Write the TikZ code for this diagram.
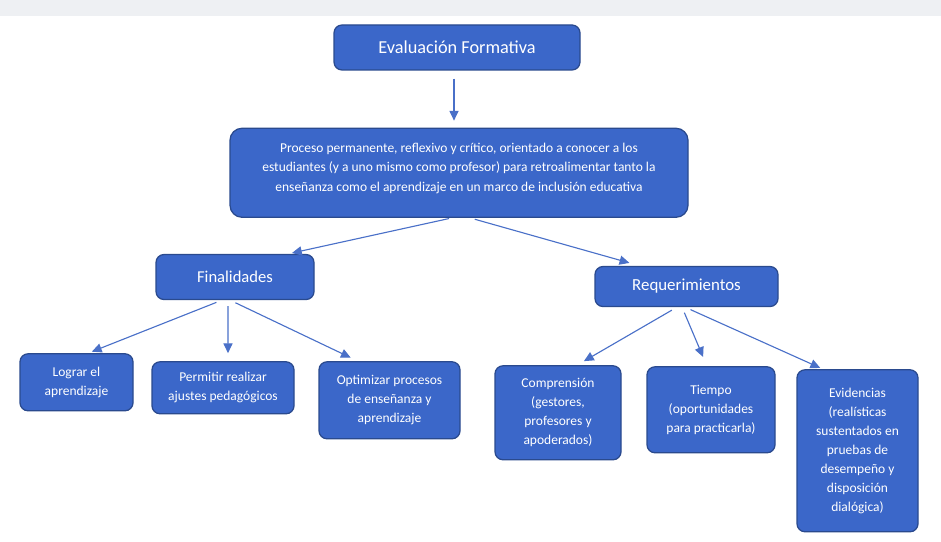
\documentclass[tikz,border=0pt]{standalone}
\usepackage{fontspec}
\setmainfont{Carlito}
\usetikzlibrary{arrows.meta,positioning}

\definecolor{boxblue}{HTML}{3B67C9}
\definecolor{boxedge}{HTML}{2A4A8E}
\definecolor{arrblue}{HTML}{4A70C8}
\definecolor{topband}{HTML}{EEF0F3}

\begin{document}
\begin{tikzpicture}[
blk/.style={draw=boxedge,line width=0.9pt,fill=boxblue,rounded corners=0.2cm,text=white,align=center,inner sep=2pt,font=\fontsize{9.6}{13.5}\selectfont},
arr/.style={-{Triangle[length=7pt,width=6.5pt]},arrblue,line width=0.8pt}
]
\useasboundingbox (0,0) rectangle (23.525,-13.55);
\fill[topband] (0,0) rectangle (23.525,-0.4);

\node[blk,minimum width=6.15cm,minimum height=1.125cm,font=\fontsize{13}{15}\selectfont] (eval) at (11.425,-1.1875) {Evaluación Formativa};
\node[blk,below=1.425cm of eval,xshift=0.05cm,minimum width=11.45cm,minimum height=2.225cm,rounded corners=0.3cm,font=\fontsize{9.6}{14}\selectfont] (proc) {Proceso permanente, reflexivo y crítico, orientado a conocer a los\\estudiantes (y a uno mismo como profesor) para retroalimentar tanto la\\enseñanza como el aprendizaje en un marco de inclusión educativa\\[-6pt]};
\draw[arr,shorten <=0.2cm,shorten >=0.175cm] ([xshift=-0.075cm]eval.south)--([xshift=-0.125cm]proc.north);

% finalidades
\node[blk,below=0.9cm of proc,xshift=-5.6cm,minimum width=3.95cm,minimum height=1.125cm,font=\fontsize{11.8}{13}\selectfont] (fin) {Finalidades};
\node[blk,below=1.325cm of fin,xshift=-3.9625cm,minimum width=2.825cm,minimum height=1.425cm] (logr) {Lograr el\\aprendizaje};
\node[blk,below=1.525cm of fin,xshift=-0.3cm,minimum width=3.55cm,minimum height=1.3cm] (perm) {Permitir realizar\\ajustes pedagógicos};
\node[blk,below=1.525cm of fin,xshift=3.8625cm,minimum width=3.525cm,minimum height=1.925cm] (opti) {Optimizar procesos\\de enseñanza y\\aprendizaje};
\draw[arr,shorten <=0.075cm,shorten >=0.1cm] ([xshift=-0.175cm]proc.south)--([xshift=1.325cm]fin.north);
\draw[arr,shorten <=0.15cm,shorten >=0.1cm] ([xshift=-0.325cm]fin.south)--([xshift=0.29cm]logr.north); \draw[arr,shorten <=0.15cm,shorten >=0.2cm] ([xshift=-0.175cm]fin.south)--([xshift=0.125cm]perm.north); \draw[arr,shorten <=0.15cm,shorten >=0.2cm] ([xshift=-0.125cm]fin.south)--([xshift=-0.7875cm]opti.north);

% requerimientos
\node[blk,below=1.2cm of proc,xshift=5.6875cm,minimum width=4.575cm,minimum height=1cm,font=\fontsize{12}{14}\selectfont] (req) {Requerimientos};
\node[blk,below=1.45cm of req,xshift=-3.2125cm,minimum width=3.15cm,minimum height=2.35cm] (comp) {Comprensión\\(gestores,\\profesores y\\apoderados)};
\node[blk,below=1.475cm of req,xshift=0.6125cm,minimum width=3.2cm,minimum height=2.15cm] (tiem) {Tiempo\\(oportunidades\\para practicarla)};
\node[blk,below=1.55cm of req,xshift=4.275cm,minimum width=3.025cm,minimum height=4.05cm] (evid) {Evidencias\\(realísticas\\sustentados en\\pruebas de\\desempeño y\\disposición\\dialógica)};
\draw[arr,shorten <=0.125cm,shorten >=0.275cm] ([xshift=0.275cm]proc.south)--([xshift=-1.1625cm]req.north);
\draw[arr,shorten <=0.15cm,shorten >=0.2cm] ([xshift=-0.2375cm]req.south)--([xshift=0.475cm]comp.north); \draw[arr,shorten <=0.15cm,shorten >=0.25cm] ([xshift=-0.1125cm]req.south)--([xshift=-0.1cm]tiem.north); \draw[arr,shorten <=0.15cm,shorten >=0.075cm] ([xshift=-0.0375cm]req.south)--([xshift=-0.8625cm]evid.north);
\end{tikzpicture}
\end{document}
